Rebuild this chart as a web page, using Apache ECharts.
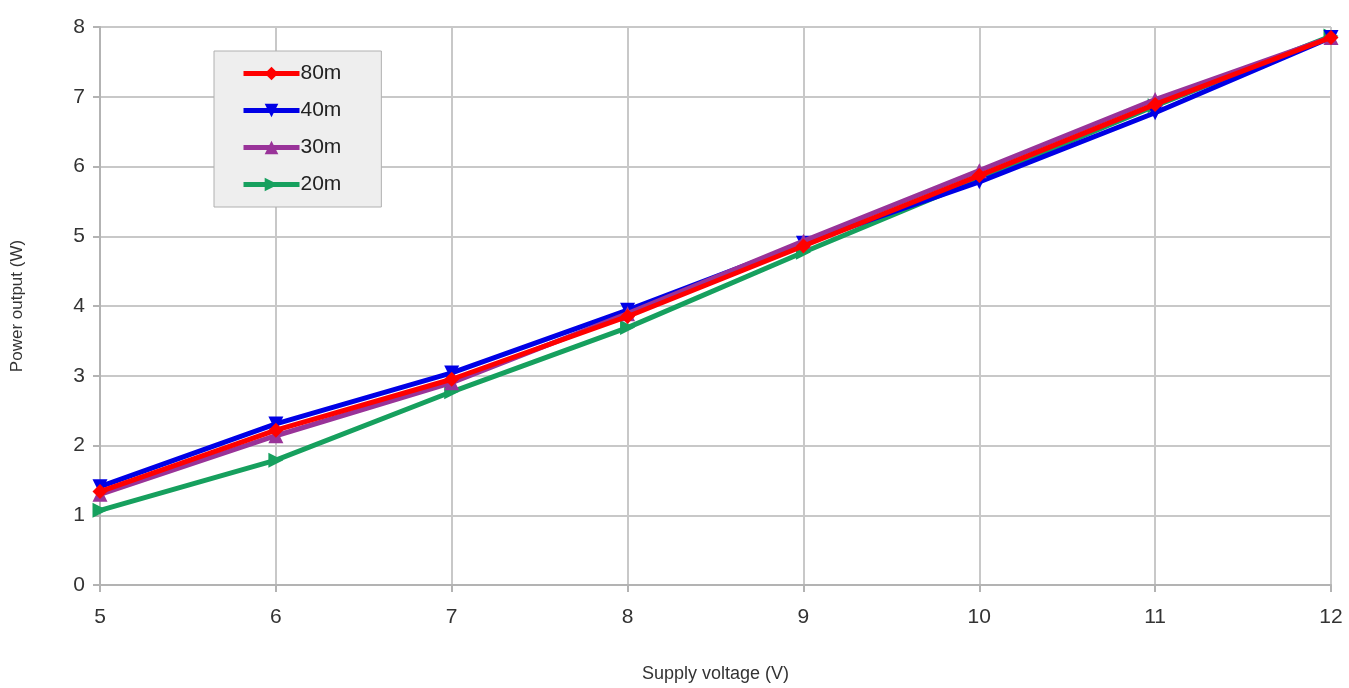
<!DOCTYPE html>
<html>
<head>
<meta charset="utf-8">
<script src="https://cdn.jsdelivr.net/npm/echarts@6/dist/echarts.min.js"></script>
<style>
html,body{margin:0;padding:0;background:#fff;}
#c{width:1349px;height:688px;}
</style>
</head>
<body>
<div id="c"></div>
<script>
const voltages = [5, 6, 7, 8, 9, 10, 11, 12];
const seriesNames = ['80m', '40m', '30m', '20m'];
const p80m = [1.34, 2.22, 2.95, 3.85, 4.86, 5.87, 6.89, 7.85];
const p40m = [1.41, 2.31, 3.04, 3.94, 4.90, 5.78, 6.77, 7.85];
const p30m = [1.30, 2.14, 2.90, 3.89, 4.93, 5.94, 6.96, 7.85];
const p20m = [1.07, 1.79, 2.77, 3.69, 4.77, 5.82, 6.87, 7.87];
const yTicks = [0, 1, 2, 3, 4, 5, 6, 7, 8];

const values = [p80m, p40m, p30m, p20m];
const colors = ['#ff0000', '#0000e6', '#993399', '#16a05e'];
const symbols = ['diamond', 'triangle', 'triangle', 'triangle'];
const rotations = [0, 180, 0, -90];
const zs = [5, 3, 4, 2];

const chart = echarts.init(document.getElementById('c'));
const font = 'Liberation Sans, Arial, sans-serif';
chart.setOption({
  animation: false,
  backgroundColor: '#ffffff',
  grid: {left: 100, right: 18, top: 27, bottom: 98},
  legend: {
    orient: 'vertical',
    left: 214, top: 51,
    padding: [12, 40, 12, 27],
    backgroundColor: '#eeeeee',
    borderColor: '#b0b0b0',
    borderWidth: 1,
    itemWidth: 56, itemHeight: 17,
    itemGap: 16,
    lineStyle: {width: 5},
    textStyle: {fontFamily: font, fontSize: 21, lineHeight: 20, color: '#222', padding: [0, 0, 0, -4]},
    data: seriesNames
  },
  xAxis: {
    type: 'value', min: 5, max: 12, interval: 1,
    name: 'Supply voltage (V)', nameLocation: 'middle', nameGap: 80,
    nameTextStyle: {fontFamily: font, fontSize: 18, color: '#333'},
    axisLine: {show: true, lineStyle: {color: '#b3b3b3', width: 2}},
    axisTick: {show: true, length: 7, lineStyle: {color: '#b3b3b3', width: 2}},
    axisLabel: {fontFamily: font, fontSize: 21, color: '#333', margin: 22},
    splitLine: {show: true, lineStyle: {color: '#c8c8c8', width: 2}}
  },
  yAxis: {
    type: 'value', min: 0, max: 8, interval: 1,
    name: 'Power output (W)', nameLocation: 'middle', nameGap: 74, nameRotate: 90,
    nameTextStyle: {fontFamily: font, fontSize: 17, color: '#333'},
    axisLine: {show: true, lineStyle: {color: '#b3b3b3', width: 2}},
    axisTick: {show: true, length: 7, lineStyle: {color: '#b3b3b3', width: 2}},
    axisLabel: {fontFamily: font, fontSize: 21, color: '#333', margin: 15,
      formatter: v => yTicks.includes(v) ? String(v) : ''},
    splitLine: {show: true, lineStyle: {color: '#c8c8c8', width: 2}}
  },
  series: seriesNames.map((n, i) => ({
    name: n,
    type: 'line',
    z: zs[i],
    data: voltages.map((v, k) => [v, values[i][k]]),
    symbol: symbols[i],
    symbolRotate: rotations[i],
    symbolSize: 15,
    showAllSymbol: true,
    color: colors[i],
    lineStyle: {width: 5, color: colors[i]},
    itemStyle: {color: colors[i]}
  }))
});
</script>
</body>
</html>
